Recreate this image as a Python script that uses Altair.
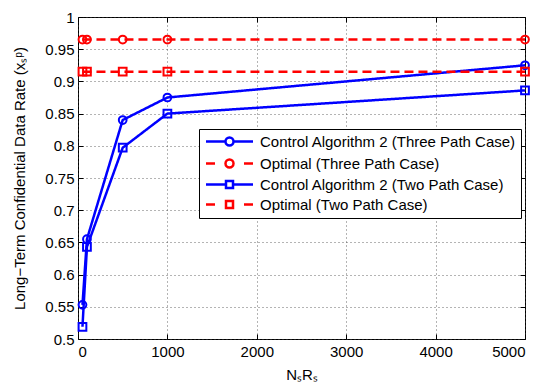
import altair as alt
import pandas as pd

# ---- data ----
x_vals = [50, 100, 500, 1000, 5000]
ctrl_three = [0.553, 0.655, 0.840, 0.875, 0.925]
opt_three = [0.965, 0.965, 0.965, 0.965, 0.965]
ctrl_two = [0.519, 0.643, 0.797, 0.850, 0.886]
opt_two = [0.915, 0.915, 0.915, 0.915, 0.915]
series_names = [
    "Control Algorithm 2 (Three Path Case)",
    "Optimal (Three Path Case)",
    "Control Algorithm 2 (Two Path Case)",
    "Optimal (Two Path Case)",
]
x_ticks = [0, 1000, 2000, 3000, 4000, 5000]
y_ticks = [0.5, 0.55, 0.6, 0.65, 0.7, 0.75, 0.8, 0.85, 0.9, 0.95, 1.0]

# ---- styles ----
colors = ["#0000ff", "#ff0000", "#0000ff", "#ff0000"]
markers = ["circle", "circle", "square", "square"]
dashes = [[1, 0], [9, 5], [1, 0], [9, 5]]
legend_paths = [
    "M-4.7,0H-0.8M0.8,0H4.7M0.8,0A0.8,0.8 0 1,1 -0.8,0A0.8,0.8 0 1,1 0.8,0",
    "M-4.7,0H-2.9M2.9,0H4.7M0.8,0A0.8,0.8 0 1,1 -0.8,0A0.8,0.8 0 1,1 0.8,0",
    "M-4.7,0H-0.7M0.7,0H4.7M-0.7,-0.7H0.7V0.7H-0.7Z",
    "M-4.7,0H-2.9M2.9,0H4.7M-0.7,-0.7H0.7V0.7H-0.7Z",
]
FONT = "Liberation Sans"
W, H = 447, 322

rows = []
for name, vals in zip(series_names, [ctrl_three, opt_three, ctrl_two, opt_two]):
    for xv, yv in zip(x_vals, vals):
        rows.append({"series": name, "x": xv, "y": yv})
df = pd.DataFrame(rows)

x_scale = alt.Scale(domain=[0, 5000], nice=False, zero=False)
y_scale = alt.Scale(domain=[0.5, 1.0], nice=False, zero=False)


def xe(axis):
    return alt.X("x:Q", scale=x_scale, axis=axis)


def ye(axis):
    return alt.Y("y:Q", scale=y_scale, axis=axis)


x_main = alt.Axis(values=x_ticks, title="NₛRₛ", format="d", labelPadding=5, orient="bottom",
                  titlePadding=8, grid=True, ticks=False)
y_main = alt.Axis(values=y_ticks, title="Long−Term Confidential Data Rate (xₛᵖ)", orient="left",
                  format=".2~f", labelPadding=4, titlePadding=17, grid=True, ticks=False)


def tick_axis(vals, orient, off):
    # an axis turned to the opposite side, so its ticks point into the plot
    return alt.Axis(values=vals, orient=orient, offset=off, labels=False, title=None,
                    grid=False, ticks=True, tickSize=5, tickColor="black", tickWidth=1,
                    domain=False)


layers = []
first = True
for name, col, mk, dsh in zip(series_names, colors, markers, dashes):
    base = alt.Chart(df).transform_filter(alt.datum.series == name)
    xa = x_main if first else None
    ya = y_main if first else None
    first = False
    line = base.mark_line(color=col, strokeWidth=2.5, strokeDash=dsh).encode(x=xe(xa), y=ye(ya))
    pts = base.mark_point(shape=mk, color=col, filled=False, size=60, strokeWidth=2,
                          opacity=1).encode(x=xe(None), y=ye(None))
    layers += [line, pts]

leg = alt.Legend(
    title=None, orient="none", legendX=121, legendY=112,
    labelFont=FONT, labelFontSize=15, labelColor="black",
    strokeColor="black", fillColor="white", padding=5, cornerRadius=0,
    symbolSize=100, symbolStrokeWidth=2.5, symbolOffset=18, labelOffset=23,
    symbolOpacity=1, rowPadding=3, labelLimit=400,
)
legend_layer = (
    alt.Chart(df)
    .transform_filter("false")
    .mark_point(filled=False, strokeWidth=2.5, opacity=1)
    .encode(
        x=xe(tick_axis(x_ticks, "top", -H)),
        y=ye(tick_axis(y_ticks, "right", -W)),
        color=alt.Color("series:N", scale=alt.Scale(domain=series_names, range=colors),
                        sort=series_names, legend=leg),
        shape=alt.Shape("series:N", scale=alt.Scale(domain=series_names, range=legend_paths),
                        sort=series_names, legend=leg),
    )
)
tick_layer = (
    alt.Chart(df)
    .transform_filter("false")
    .mark_point()
    .encode(x=xe(tick_axis(x_ticks, "bottom", -H)), y=ye(tick_axis(y_ticks, "left", -W)))
)
layers = layers + [tick_layer, legend_layer]

chart = (
    alt.layer(*layers)
    .resolve_axis(x="independent", y="independent")
    .properties(width=W, height=H, background="white",
                autosize=alt.AutoSizeParams(type="none"),
                padding={"left": 78, "top": 17, "right": 18, "bottom": 49})
    .configure_view(stroke="black", strokeWidth=1)
    .configure_axis(
        labelFont=FONT, labelFontSize=15, labelColor="black",
        titleFont=FONT, titleFontSize=15, titleFontWeight="normal", titleColor="black",
        domain=False, gridColor="#444", gridDash=[1, 3], gridOpacity=0.8, gridWidth=1,
    )
)
chart.save("out.html", embed_options={"renderer": "svg", "actions": False})
